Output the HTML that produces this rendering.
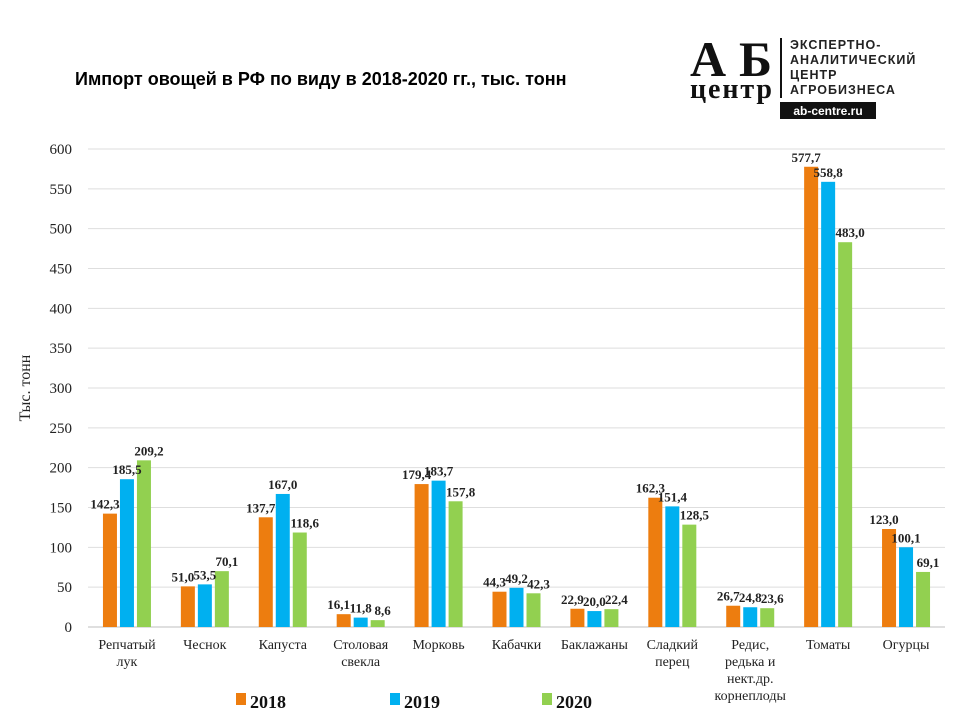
<!DOCTYPE html>
<html><head><meta charset="utf-8"><style>
body{margin:0;background:#fff;width:960px;height:720px;overflow:hidden}
svg{display:block}
</style></head><body>
<svg id="c" width="960" height="720" xmlns="http://www.w3.org/2000/svg">
<text x="75" y="85" font-family="Liberation Sans, sans-serif" font-weight="bold" font-size="18" fill="#000">Импорт овощей в РФ по виду в 2018-2020 гг., тыс. тонн</text>
<g>
<text x="690" y="76" font-family="Liberation Serif, serif" font-weight="bold" font-size="50" fill="#111" textLength="82">АБ</text>
<text x="690" y="98" font-family="Liberation Serif, serif" font-weight="bold" font-size="28" fill="#111" textLength="82">центр</text>
<rect x="780" y="38" width="2" height="60" fill="#111"/>
<text font-family="Liberation Sans, sans-serif" font-weight="bold" font-size="12.5" fill="#222" letter-spacing="1">
<tspan x="790" y="49">ЭКСПЕРТНО-</tspan><tspan x="790" y="64">АНАЛИТИЧЕСКИЙ</tspan><tspan x="790" y="79">ЦЕНТР</tspan><tspan x="790" y="94">АГРОБИЗНЕСА</tspan></text>
<rect x="780" y="102" width="96" height="17" fill="#111"/>
<text x="828" y="115" text-anchor="middle" font-family="Liberation Sans, sans-serif" font-weight="bold" font-size="12" fill="#fff">ab-centre.ru</text>
</g>
<text transform="translate(30,388) rotate(-90)" text-anchor="middle" font-family="Liberation Serif, serif" font-size="16" fill="#222">Тыс. тонн</text>
<g id="grid"></g><g id="bars"></g><g id="labels"></g>
<g font-family="Liberation Serif, serif" font-weight="bold" font-size="18" fill="#111">
<g><rect x="236" y="693" width="10" height="12" fill="#ED7D0F"/><text x="250" y="708">2018</text></g>
<g><rect x="390" y="693" width="10" height="12" fill="#00B0F0"/><text x="404" y="708">2019</text></g>
<g><rect x="542" y="693" width="10" height="12" fill="#92D050"/><text x="556" y="708">2020</text></g>
</g>
</svg>
<script>
const categories=[["Репчатый","лук"],["Чеснок"],["Капуста"],["Столовая","свекла"],["Морковь"],["Кабачки"],["Баклажаны"],["Сладкий","перец"],["Редис,","редька и","нект.др.","корнеплоды"],["Томаты"],["Огурцы"]];
const s2018=[142.3,51.0,137.7,16.1,179.4,44.3,22.9,162.3,26.7,577.7,123.0];
const s2019=[185.5,53.5,167.0,11.8,183.7,49.2,20.0,151.4,24.8,558.8,100.1];
const s2020=[209.2,70.1,118.6,8.6,157.8,42.3,22.4,128.5,23.6,483.0,69.1];
const yTicks=[0,50,100,150,200,250,300,350,400,450,500,550,600];
const NS="http://www.w3.org/2000/svg";
const X0=88,X1=945,Y0=627,Y600=149;
const band=(X1-X0)/categories.length;
const y=v=>Y0-(v/600)*(Y0-Y600);
const xc=i=>X0+band*(i+0.5);
function mk(t,a,p){const e=document.createElementNS(NS,t);for(const k in a)e.setAttribute(k,a[k]);p.appendChild(e);return e;}
const grid=document.getElementById('grid'),bars=document.getElementById('bars'),labels=document.getElementById('labels');
yTicks.forEach(t=>{
  const l=mk('line',{x1:X0,x2:X1,y1:y(t),y2:y(t),stroke:t===0?'#bfbfbf':'#dedede','stroke-width':1},grid);
  
  
  const tx=mk('text',{x:72,y:y(t)+5,'text-anchor':'end','font-family':'Liberation Serif, serif','font-size':15,fill:'#222'},grid);
  tx.textContent=t;
  
  
});
const series=[[s2018,'#ED7D0F','2018',-1],[s2019,'#00B0F0','2019',0],[s2020,'#92D050','2020',1]];
const bw=14,gap=3;
categories.forEach((c,i)=>{
  series.forEach(([d,col,nm,k])=>{
    const cx=xc(i)+k*(bw+gap);
    const r=mk('rect',{x:cx-bw/2,y:y(d[i]),width:bw,height:Y0-y(d[i]),fill:col},bars);
    
    
    const t=mk('text',{x:cx+k*5,y:y(d[i])-5,'text-anchor':'middle','font-family':'Liberation Serif, serif','font-weight':'bold','font-size':13,fill:'#222'},labels);
    t.textContent=d[i].toFixed(1).replace('.',',');
    
    
  });
  const ct=mk('text',{'text-anchor':'middle','font-family':'Liberation Serif, serif','font-size':14,fill:'#222'},labels);
  
  
  c.forEach((ln,j)=>{const ts=mk('tspan',{x:xc(i),y:649+j*17},ct);ts.textContent=ln;});
});
</script>
</body></html>
